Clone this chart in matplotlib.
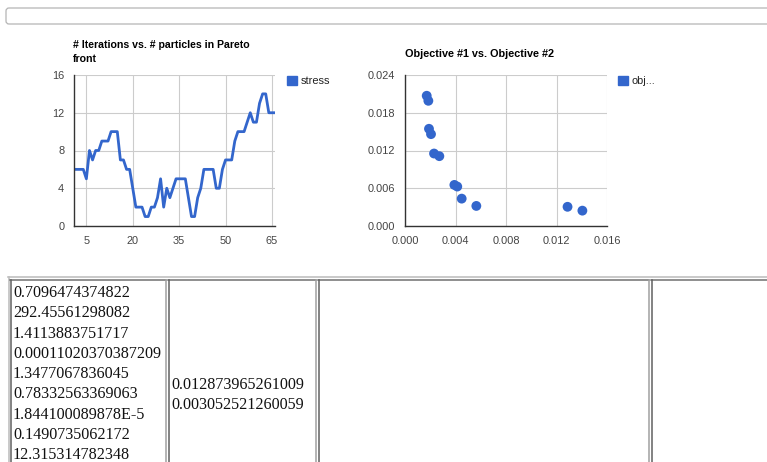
import matplotlib
matplotlib.use('Agg')
import matplotlib.pyplot as plt
from matplotlib.patches import Rectangle, FancyBboxPatch

W, H = 767, 462  # page size in pixels

# line chart: particles in pareto front per iteration
iterations = list(range(1, 67))
stress = [6, 6, 6, 6, 5, 8, 7, 8, 8, 9,
          9, 9, 10, 10, 10, 7, 7, 6, 6, 4,
          2, 2, 2, 1, 1, 2, 2, 3, 5, 2,
          4, 3, 4, 5, 5, 5, 5, 3, 1, 1,
          3, 4, 6, 6, 6, 6, 4, 4, 6, 7,
          7, 7, 9, 10, 10, 10, 11, 12, 11, 11,
          13, 14, 14, 12, 12, 12]
line_xticks = [5, 20, 35, 50, 65]
line_yticks = [0, 4, 8, 12, 16]

# scatter: objective values of the pareto front
obj1 = [0.00172, 0.00185, 0.0019, 0.00206, 0.0023, 0.00272,
        0.00391, 0.00414, 0.00449, 0.00565, 0.012873965261009, 0.01405]
obj2 = [0.0207, 0.0199, 0.01545, 0.0146, 0.01152, 0.0111,
        0.00653, 0.00627, 0.00435, 0.00319, 0.003052521260059, 0.00244]
sc_xticks = [0.000, 0.004, 0.008, 0.012, 0.016]
sc_yticks = [0.000, 0.006, 0.012, 0.018, 0.024]

# table below the charts
col1_values = ['0.7096474374822', '292.45561298082', '1.4113883751717',
               '0.00011020370387209', '1.3477067836045', '0.78332563369063',
               '1.844100089878E-5', '0.1490735062172', '12.315314782348']
col2_values = ['0.012873965261009', '0.003052521260059']

line_title = '# Iterations vs. # particles in Pareto\nfront'
scatter_title = 'Objective #1 vs. Objective #2'
line_name = 'stress'
scatter_name = 'obj...'

BLUE = '#3366cc'
plt.rcParams['font.family'] = ['Liberation Sans', 'DejaVu Sans']


def px_axes(fig, left, top, right, bottom, **kw):
    return fig.add_axes([left / W, 1 - bottom / H, (right - left) / W, (bottom - top) / H], **kw)


def style_axes(ax):
    for s in ['top', 'right']:
        ax.spines[s].set_visible(False)
    for s in ['left', 'bottom']:
        ax.spines[s].set_color('#333333')
        ax.spines[s].set_linewidth(1.0)
    ax.grid(True, color='#cccccc', linewidth=0.8)
    ax.set_axisbelow(True)
    ax.tick_params(length=0, labelsize=7.9, labelcolor='#444444', pad=7)


fig = plt.figure(figsize=(W / 100, H / 100), dpi=100)

# page overlay in pixel coordinates
page = fig.add_axes([0, 0, 1, 1], zorder=-1)
page.set_xlim(0, W)
page.set_ylim(H, 0)
page.axis('off')

# text input box at the top
page.add_patch(FancyBboxPatch((6, 8), 820, 16, boxstyle='round,pad=0,rounding_size=3',
                              fc='white', ec='#b4b4b4', lw=0.9))

# chart titles
title_lines = line_title.split('\n')
page.text(73, 48.5, title_lines[0], fontsize=7.6, fontweight='bold', color='#000000', va='baseline')
page.text(73, 61.5, title_lines[1], fontsize=7.6, fontweight='bold', color='#000000', va='baseline')
page.text(405, 57, scatter_title, fontsize=7.8, fontweight='bold', color='#000000', va='baseline')

# legends
page.add_patch(Rectangle((286.5, 76), 10, 9, color=BLUE))
page.text(300.5, 84, line_name, fontsize=7.9, color='#222222', va='baseline')
page.add_patch(Rectangle((618, 76), 10, 9, color=BLUE))
page.text(632, 84, scatter_name, fontsize=7.9, color='#222222', va='baseline')

# table borders
page.plot([8, W], [277, 277], color='#c0c0c0', lw=1.2)
page.plot([8.5, 8.5], [277, H], color='#c0c0c0', lw=1.2)
cells = [(10, 166), (168, 316), (318, 649), (651, 820)]
for l, r in cells:
    page.plot([l, r], [279.5, 279.5], color='#707070', lw=1.1)
    page.plot([l + 0.5, l + 0.5], [279.5, H], color='#606060', lw=1.1)
    page.plot([r - 0.5, r - 0.5], [279.5, H], color='#a0a0a0', lw=1.1)

for i, v in enumerate(col1_values):
    page.text(13, 297 + i * 20.3, v, family=['Liberation Serif', 'DejaVu Serif'],
              fontsize=11.6, color='#111111', va='baseline')
for i, v in enumerate(col2_values):
    page.text(171, 389 + i * 20.3, v, family=['Liberation Serif', 'DejaVu Serif'],
              fontsize=11.6, color='#111111', va='baseline')

# line chart
ax1 = px_axes(fig, 74, 75, 275, 226)
ax1.plot(iterations, stress, color=BLUE, lw=2.0, solid_joinstyle='round')
ax1.set_xlim(1, 66)
ax1.set_ylim(0, 16)
ax1.set_xticks(line_xticks)
ax1.set_yticks(line_yticks)
style_axes(ax1)

# scatter chart
ax2 = px_axes(fig, 405, 75, 607, 226)
ax2.scatter(obj1, obj2, s=50, color=BLUE, edgecolors='none', zorder=3)
ax2.set_xlim(0, 0.016)
ax2.set_ylim(0, 0.024)
ax2.set_xticks(sc_xticks)
ax2.set_yticks(sc_yticks)
ax2.set_xticklabels(['%.3f' % t for t in sc_xticks])
ax2.set_yticklabels(['%.3f' % t for t in sc_yticks])
style_axes(ax2)

fig.savefig('out.png', dpi=100)
